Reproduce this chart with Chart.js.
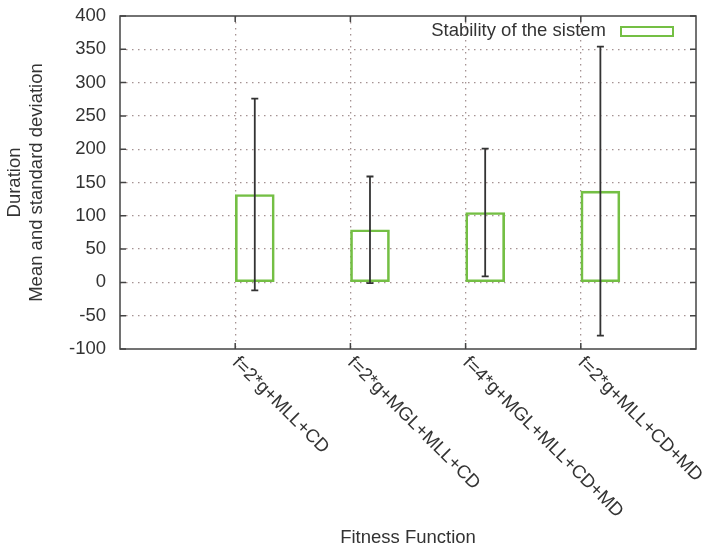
<!DOCTYPE html>
<html>
<head>
<meta charset="utf-8">
<script src="https://cdn.jsdelivr.net/npm/chart.js@4.4.1/dist/chart.umd.min.js"></script>
<style>
  html, body { margin: 0; padding: 0; background: #fff; }
  #wrap { width: 702px; height: 549px; }
</style>
</head>
<body>
<div id="wrap"><canvas id="chart" width="702" height="549"></canvas></div>
<script>
// ------------------------------------------------------------
// data
// ------------------------------------------------------------
const categories = ["f=2*g+MLL+CD", "f=2*g+MGL+MLL+CD", "f=4*g+MGL+MLL+CD+MD", "f=2*g+MLL+CD+MD"];
const means = [132, 79, 105, 137];
const stdDevs = [144, 80, 96, 217];
const yTicks = [-100, -50, 0, 50, 100, 150, 200, 250, 300, 350, 400];
const seriesName = "Stability of the sistem";

const GREEN = "#74bf44";
const INK = "#333";
const FONT = "'Liberation Sans', Arial, sans-serif";
const FSIZE = 18.5;
const BOX_SHIFT = 0.17; // gnuplot box sits right of the tick

// ------------------------------------------------------------
// frame, inner ticks, error bars, legend, rotated labels
// ------------------------------------------------------------
const gnuplotBits = {
  id: "gnuplotBits",
  afterDatasetsDraw(chart) {
    const ctx = chart.ctx;
    const xs = chart.scales.x, ys = chart.scales.y;
    const ca = chart.chartArea;

    // error bars
    ctx.save();
    ctx.strokeStyle = INK;
    ctx.lineWidth = 1.8;
    means.forEach((m, i) => {
      const px = xs.getPixelForValue(i + 1 + BOX_SHIFT);
      const top = ys.getPixelForValue(m + stdDevs[i]);
      const bot = ys.getPixelForValue(m - stdDevs[i]);
      ctx.beginPath();
      ctx.moveTo(px, top); ctx.lineTo(px, bot);
      ctx.moveTo(px - 3.5, top); ctx.lineTo(px + 3.5, top);
      ctx.moveTo(px - 3.5, bot); ctx.lineTo(px + 3.5, bot);
      ctx.stroke();
    });

    // frame
    ctx.strokeStyle = "#444";
    ctx.lineWidth = 1.5;
    ctx.strokeRect(ca.left, ca.top, ca.right - ca.left, ca.bottom - ca.top);

    // inner ticks (mirrored like gnuplot)
    ctx.beginPath();
    yTicks.forEach((v) => {
      const py = ys.getPixelForValue(v);
      ctx.moveTo(ca.left, py); ctx.lineTo(ca.left + 6, py);
      ctx.moveTo(ca.right, py); ctx.lineTo(ca.right - 6, py);
    });
    categories.forEach((c, i) => {
      const px = xs.getPixelForValue(i + 1);
      ctx.moveTo(px, ca.bottom); ctx.lineTo(px, ca.bottom - 6);
      ctx.moveTo(px, ca.top); ctx.lineTo(px, ca.top + 6);
    });
    ctx.stroke();

    // key
    ctx.font = FSIZE + "px " + FONT;
    ctx.fillStyle = INK;
    ctx.textAlign = "right";
    ctx.textBaseline = "middle";
    ctx.fillText(seriesName, ca.right - 90, ca.top + 15);
    ctx.strokeStyle = GREEN;
    ctx.lineWidth = 2;
    ctx.strokeRect(ca.right - 75, ca.top + 11, 52, 9);

    // rotated category labels
    ctx.textAlign = "left";
    categories.forEach((c, i) => {
      const px = xs.getPixelForValue(i + 1);
      ctx.save();
      ctx.translate(px, ca.bottom + 11);
      ctx.rotate(Math.PI / 4);
      ctx.fillStyle = INK;
      ctx.fillText(c, 0, 0);
      ctx.restore();
    });
    ctx.restore();
  },
};

const gridColor = "rgba(160,140,140,0.95)";

new Chart(document.getElementById("chart"), {
  type: "bar",
  data: {
    datasets: [
      {
        label: seriesName,
        data: means.map((m, i) => ({ x: i + 1 + BOX_SHIFT, y: m })),
        backgroundColor: "rgba(0,0,0,0)",
        borderColor: GREEN,
        borderWidth: 2,
        borderSkipped: false,
        barThickness: 39,
      },
    ],
  },
  options: {
    responsive: false,
    animation: false,
    layout: { autoPadding: false, padding: { top: 16, right: 6, left: 0, bottom: 0 } },
    plugins: { legend: { display: false }, tooltip: { enabled: false } },
    scales: {
      x: {
        type: "linear",
        min: 0,
        max: 5,
        offset: false,
        afterFit: (s) => { s.height = 200; s.paddingLeft = 0; s.paddingRight = 0; },
        ticks: { display: false, stepSize: 1 },
        border: { display: false, dash: [1.5, 4.5] },
        grid: {
          offset: false,
          drawTicks: false,
          lineWidth: 1.3,
          color: (c) => (c.tick && (c.tick.value === 0 || c.tick.value === 5) ? "rgba(0,0,0,0)" : gridColor),
        },
        title: {
          display: true,
          text: "Fitness Function",
          color: INK,
          font: { family: FONT, size: FSIZE },
          padding: { top: 0, bottom: 0 },
        },
      },
      y: {
        min: -100,
        max: 400,
        afterFit: (s) => { s.width = 120; s.paddingTop = 0; s.paddingBottom = 0; },
        ticks: {
          stepSize: 50,
          padding: 14,
          color: INK,
          font: { family: FONT, size: FSIZE },
        },
        border: { display: false, dash: [1.5, 4.5] },
        grid: {
          drawTicks: false,
          lineWidth: 1.3,
          color: (c) => (c.tick && (c.tick.value === -100 || c.tick.value === 400) ? "rgba(0,0,0,0)" : gridColor),
        },
        title: {
          display: true,
          text: ["Duration", "Mean and standard deviation"],
          color: INK,
          font: { family: FONT, size: FSIZE },
          padding: { top: 4, bottom: 0 },
        },
      },
    },
  },
  plugins: [gnuplotBits],
});
</script>
</body>
</html>
